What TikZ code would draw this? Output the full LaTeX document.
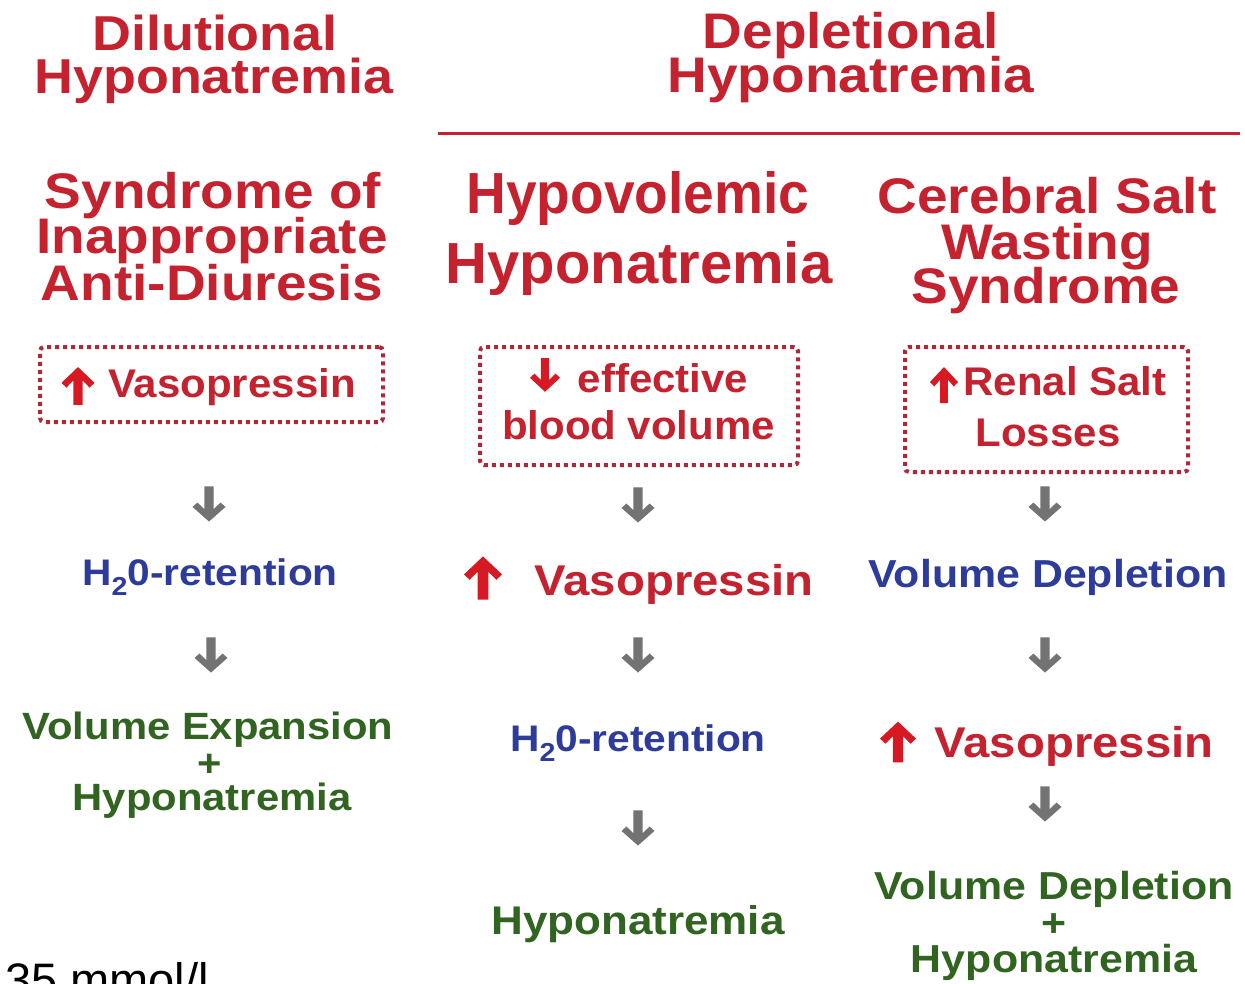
\documentclass[tikz,border=0pt]{standalone}
\usepackage{graphicx}
\usepackage{fontspec}
\setmainfont{Liberation Sans}
\newcommand\myfs[1]{\fontsize{#1}{#1}\selectfont}
\newcommand\sx[1]{\scalebox{1.1}[1]{#1}}
\definecolor{tred}{RGB}{196,34,46}
\definecolor{boxred}{RGB}{175,40,58}
\definecolor{arrred}{RGB}{215,25,35}
\definecolor{tblue}{RGB}{45,60,155}
\definecolor{tgreen}{RGB}{48,100,32}
\definecolor{arrgray}{RGB}{115,115,115}
\tikzset{
  fatup/.pic={\fill (0,-1.2) -- (1,-0.2) -- (0.7,0.1) -- (0.28,-0.35) -- (0.28,1.2) -- (-0.28,1.2) -- (-0.28,-0.35) -- (-0.7,0.1) -- (-1,-0.2) -- cycle;},
  grayarrow/.style={color=arrgray, xscale=16.5, yscale=-14.6},
  txt/.style={inner sep=0pt, anchor=base},
  rtxt/.style={txt, text=tred},
  btxt/.style={txt, text=tblue},
  gtxt/.style={txt, text=tgreen},
  dotbox/.style={draw=boxred, line width=4pt, dash pattern=on 4pt off 4pt, rounded corners=4pt, inner sep=0pt},
}
\begin{document}
\begin{tikzpicture}[x=1pt,y=-1pt]
\useasboundingbox[fill=white] (0,0) rectangle (1245,983);

% titles
\node[rtxt, font={\bfseries\myfs{49}}] (dil1) at (215,50) {\sx{Dilutional}};
\node[rtxt, font={\bfseries\myfs{49}}] (dil2) at (214,93) {\sx{Hyponatremia}};
\node[rtxt, font={\bfseries\myfs{50}}] (dep1) at (851,48) {\sx{Depletional}};
\node[rtxt, font={\bfseries\myfs{50}}] (dep2) at (851,92) {\sx{Hyponatremia}};
\coordinate (lineL) at (438,133);
\coordinate (lineR) at (1240,133);
\draw[tred, line width=3pt] (lineL) -- (lineR);

% column headers
\node[rtxt, font={\bfseries\myfs{50}}] (siad1) at (213,208) {\sx{Syndrome of}};
\node[rtxt, font={\bfseries\myfs{50}}] (siad2) at (212,253) {\sx{Inappropriate}};
\node[rtxt, font={\bfseries\myfs{50}}] (siad3) at (212,300) {\sx{Anti-Diuresis}};
\node[rtxt, font={\bfseries\myfs{58}}] (hypo1) at (638,213) {\scalebox{0.95}[1]{Hypovolemic}};
\node[rtxt, font={\bfseries\myfs{58}}] (hypo2) at (639,283) {Hyponatremia};
\node[rtxt, font={\bfseries\myfs{50}}] (csw1) at (1047,213) {\sx{Cerebral Salt}};
\node[rtxt, font={\bfseries\myfs{50}}] (csw2) at (1047,259) {\sx{Wasting}};
\node[rtxt, font={\bfseries\myfs{50}}] (csw3) at (1046,303) {\sx{Syndrome}};

% dotted boxes
\node[dotbox, minimum width=343pt, minimum height=75pt] (box1) at (211.5,384.5) {};
\node[dotbox, minimum width=318pt, minimum height=118pt] (box2) at (639,406) {};
\node[dotbox, minimum width=283pt, minimum height=125pt] (box3) at (1046.5,409.5) {};

\pic[color=arrred, xscale=16.5, yscale=15.8] at (78,386) {fatup};
\node[rtxt, font={\bfseries\myfs{40}}] (b1t) at (232,397) {\scalebox{1.05}[1]{Vasopressin}};
\pic[color=arrred, xscale=15, yscale=-14] at (545,375) {fatup};
\node[rtxt, font={\bfseries\myfs{40}}] (b2t1) at (663,392) {\scalebox{1.05}[1]{effective}};
\node[rtxt, font={\bfseries\myfs{40}}] (b2t2) at (638.5,439) {\scalebox{1.05}[1]{blood volume}};
\pic[color=arrred, xscale=14, yscale=15] at (944,385) {fatup};
\node[rtxt, font={\bfseries\myfs{40}}] (b3t1) at (1065,395) {\scalebox{1.05}[1]{Renal Salt}};
\node[rtxt, font={\bfseries\myfs{40}}] (b3t2) at (1048,446) {\scalebox{1.05}[1]{Losses}};

% gray arrows row 1
\pic[grayarrow] at (209,504) {fatup};
\pic[grayarrow] at (638,505) {fatup};
\pic[grayarrow] at (1045,504) {fatup};

% row 2
\node[btxt, font={\bfseries\myfs{37}}] (ret1) at (210,585) {\sx{H\raisebox{-10pt}{\myfs{26}2}0-retention}};
\pic[color=arrred, xscale=19, yscale=18] at (483,578) {fatup};
\node[rtxt, font={\bfseries\myfs{43}}] (vas2) at (674,595) {\sx{Vasopressin}};
\node[btxt, font={\bfseries\myfs{39}}] (vdep) at (1048,587) {\sx{Volume Depletion}};

% gray arrows row 2
\pic[grayarrow] at (211,655) {fatup};
\pic[grayarrow] at (638,655) {fatup};
\pic[grayarrow] at (1045,655) {fatup};

% row 3
\node[gtxt, font={\bfseries\myfs{38}}] (ve1) at (208,739) {\sx{Volume Expansion}};
\node[gtxt, font={\bfseries\myfs{38}}] (ve2) at (210,776) {\sx{+}};
\node[gtxt, font={\bfseries\myfs{38}}] (ve3) at (212,810) {\sx{Hyponatremia}};
\node[btxt, font={\bfseries\myfs{37}}] (ret2) at (638,751) {\sx{H\raisebox{-10pt}{\myfs{26}2}0-retention}};
\pic[color=arrred, xscale=18, yscale=17] at (898,742) {fatup};
\node[rtxt, font={\bfseries\myfs{43}}] (vas3) at (1074,757) {\sx{Vasopressin}};

% gray arrows row 3
\pic[grayarrow] at (638,828) {fatup};
\pic[grayarrow] at (1045,804) {fatup};

% row 4
\node[gtxt, font={\bfseries\myfs{40}}] (hn2) at (638,934) {\sx{Hyponatremia}};
\node[gtxt, font={\bfseries\myfs{39}}] (vd1) at (1054,899) {\sx{Volume Depletion}};
\node[gtxt, font={\bfseries\myfs{39}}] (vd2) at (1054,936) {\sx{+}};
\node[gtxt, font={\bfseries\myfs{39}}] (vd3) at (1054,972) {\sx{Hyponatremia}};

% cut-off note
\node[inner sep=0pt, anchor=base west, font=\myfs{47}] (note) at (5,996) {35 mmol/l};
\end{tikzpicture}
\end{document}
